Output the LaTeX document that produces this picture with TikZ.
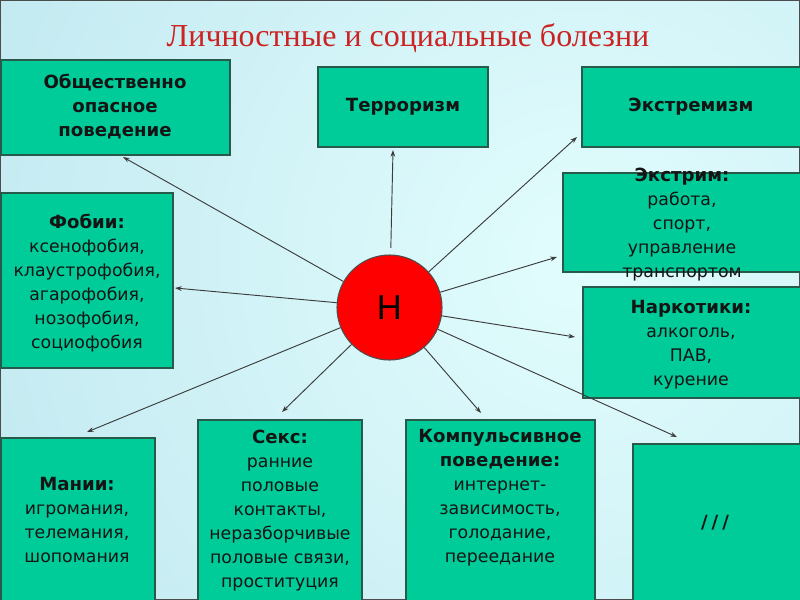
\documentclass[tikz,border=0pt]{standalone}
\usepackage{fontspec}
\setmainfont{DejaVu Sans}
\newfontfamily\titlefont{Liberation Serif}
\newfontfamily\letterfont{Liberation Sans}
\usetikzlibrary{arrows.meta}

\definecolor{boxfill}{RGB}{0,204,153}
\definecolor{boxline}{RGB}{40,90,75}
\definecolor{bginner}{RGB}{226,253,253}
\definecolor{bgouter}{RGB}{160,212,228}
\definecolor{titlered}{RGB}{204,34,34}
\definecolor{linegray}{RGB}{60,60,60}
\definecolor{txtcol}{RGB}{20,20,20}

% bold heading line inside a box
\newcommand{\hd}[1]{{\fontsize{13.6}{18}\selectfont\bfseries #1}}

\tikzset{
  box/.style={draw=boxline, fill=boxfill, line width=0.8pt, inner sep=0pt},
  txt/.style={align=center, text=txtcol, font=\fontsize{13}{18}\selectfont},
  ray/.style={draw=linegray, line width=0.7pt, -{Stealth[length=5pt,width=3.5pt]}},
}

\begin{document}
\begin{tikzpicture}[x=0.75pt,y=-0.75pt]
\useasboundingbox (0,0) rectangle (800,600);
\begin{scope}
\clip (0,0) rectangle (800,600);
\shade[inner color=bginner, outer color=bgouter] (580,260) circle [radius=1360];
\end{scope}
\draw[gray!60!black, line width=1.5pt] (0,0) rectangle (800,600);

\node[font=\titlefont\fontsize{24}{28}\selectfont, text=titlered] (title) at (408,38) {Личностные и социальные болезни};

% boxes
\node[box, minimum width=171.75pt, minimum height=71.25pt] (obsh) at (115.5,107.5) {};
\node[box, minimum width=127.5pt, minimum height=60pt] (terr) at (403,107) {};
\node[box, minimum width=166.5pt, minimum height=60pt] (extr) at (693,107) {};
\node[box, minimum width=180.75pt, minimum height=74.25pt] (extrim) at (683.5,222.5) {};
\node[box, minimum width=129pt, minimum height=131.25pt] (fob) at (87,280.5) {};
\node[box, minimum width=165.75pt, minimum height=83.25pt] (nark) at (693.5,342.5) {};
\node[box, minimum width=115.5pt, minimum height=126pt] (mani) at (78,522) {};
\node[box, minimum width=123pt, minimum height=139.5pt] (seks) at (280,513) {};
\node[box, minimum width=141.75pt, minimum height=139.5pt] (komp) at (500.5,513) {};
\node[box, minimum width=128.25pt, minimum height=121.5pt] (slash) at (718.5,525) {};

% texts
\node[txt] (obshT) at (115,107) {\hd{Общественно}\\\hd{опасное}\\\hd{поведение}};
\node[txt] (terrT) at (403,107) {\hd{Терроризм}};
\node[txt] (extrT) at (691,107) {\hd{Экстремизм}};
\node[txt] (extrimT) at (682,225) {\hd{Экстрим:}\\работа,\\спорт,\\управление\\транспортом};
\node[txt] (fobT) at (87,283) {\hd{Фобии:}\\ксенофобия,\\клаустрофобия,\\агарофобия,\\нозофобия,\\социофобия};
\node[txt] (narkT) at (691,345) {\hd{Наркотики:}\\алкоголь,\\ПАВ,\\курение};
\node[txt] (maniT) at (77,520) {\hd{Мании:}\\игромания,\\телемания,\\шопомания};
\node[txt] (seksT) at (280,511) {\hd{Секс:}\\ранние\\половые\\контакты,\\неразборчивые\\половые связи,\\проституция};
\node[txt] (kompT) at (500,498) {\hd{Компульсивное}\\\hd{поведение:}\\интернет-\\зависимость,\\голодание,\\переедание};
\node[txt] (slashT) at (715,523) {\hd{/\hspace{3pt}/\hspace{3pt}/}};

% centre
\node[circle, draw=black!70, fill=red, line width=0.8pt, minimum size=78.75pt, inner sep=0pt] (H) at (389.5,307.5) {\letterfont\fontsize{26}{26}\selectfont Н};

% arrow tips
\coordinate (tObsh) at (123,157);
\coordinate (tTerr) at (393,150);
\coordinate (tExtr) at (577,137);
\coordinate (tExtrim) at (557,257);
\coordinate (tFob) at (175,288);
\coordinate (tNark) at (575,337);
\coordinate (tMani) at (87,432);
\coordinate (tSeks) at (282,412);
\coordinate (tKomp) at (481,413);
\coordinate (tSlash) at (677,437);

\draw[ray] (H) -- (tObsh);
\draw[ray, shorten <=5pt] (H) -- (tTerr);
\draw[ray] (H) -- (tExtr);
\draw[ray] (H) -- (tExtrim);
\draw[ray] (H) -- (tFob);
\draw[ray] (H) -- (tNark);
\draw[ray] (H) -- (tMani);
\draw[ray] (H) -- (tSeks);
\draw[ray] (H) -- (tKomp);
\draw[ray] (H) -- (tSlash);
\end{tikzpicture}
\end{document}
